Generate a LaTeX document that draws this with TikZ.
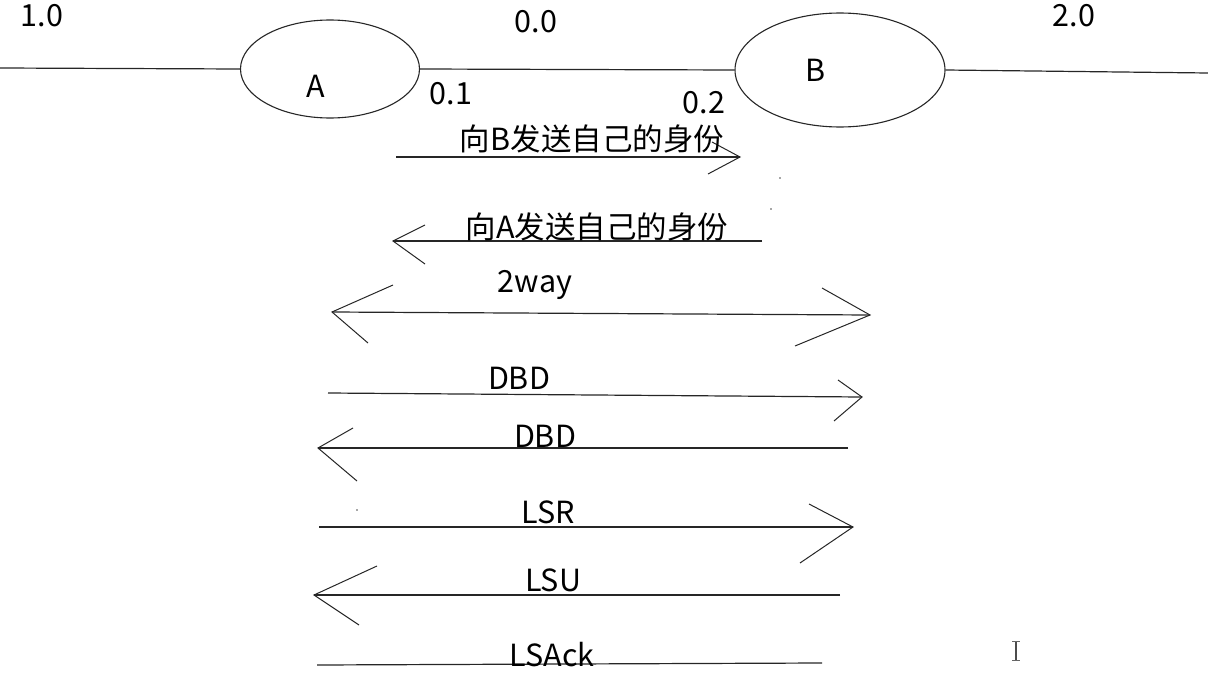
\documentclass[tikz,border=0pt]{standalone}
\usepackage{fontspec}
\setmainfont{Noto Sans CJK SC}
\usetikzlibrary{shapes.geometric}
\begin{document}
\begin{tikzpicture}[x=1pt,y=-1pt,
  ln/.style={line width=1.2pt,draw=black!85},
  tip/.style={line width=1pt,draw=black!85},
  lbl/.style={inner sep=0pt,font=\fontsize{30.5}{34}\selectfont},
  node/.style={ellipse,draw=black!85,line width=1.1pt,inner sep=0pt},
  dot/.style={fill=black!70}]
\useasboundingbox (0,0) rectangle (1208,693);
% routers
\node[node,minimum width=179pt,minimum height=98pt] (A) at (330,69) {};
\node[node,minimum width=210pt,minimum height=114pt] (B) at (840,70) {};
\coordinate (Lend) at (0,68);
\coordinate (Rend) at (1208,73);
\draw[ln] (Lend) -- (A.west);
\draw[ln] (A.east) -- (B.west);
\draw[ln] (B.east) -- (Rend);
% labels
\node[lbl] (n10) at (42,16) {1.0};
\node[lbl] (n00) at (536,22) {0.0};
\node[lbl] (n20) at (1074,16) {2.0};
\node[lbl] (nA) at (316,86) {A};
\node[lbl] (nB) at (816,70) {B};
\node[lbl] (n01) at (451,94) {0.1};
\node[lbl] (n02) at (704,103) {0.2};
% message 1
\coordinate (m1s) at (396,157); \coordinate (m1e) at (740,157);
\coordinate (m1u) at (712,142); \coordinate (m1l) at (708,174);
\draw[ln] (m1s) -- (m1e);
\draw[tip] (m1u) -- (m1e) -- (m1l);
\node[lbl] (t1) at (592,139) {向B发送自己的身份};
% message 2
\coordinate (m2s) at (762,241); \coordinate (m2e) at (393,241);
\coordinate (m2u) at (425,225); \coordinate (m2l) at (425,264);
\draw[ln] (m2s) -- (m2e);
\draw[tip] (m2u) -- (m2e) -- (m2l);
\node[lbl] (t2) at (597,227) {向A发送自己的身份};
% 2way
\coordinate (m3s) at (332,312); \coordinate (m3e) at (870,315);
\coordinate (m3lu) at (393,285); \coordinate (m3ll) at (368,343);
\coordinate (m3ru) at (822,288); \coordinate (m3rl) at (795,346);
\draw[ln] (m3s) -- (m3e);
\draw[tip] (m3lu) -- (m3s) -- (m3ll);
\draw[tip] (m3ru) -- (m3e) -- (m3rl);
\node[lbl] (t3) at (535,285) {2way};
% DBD 1
\coordinate (m4s) at (328,393); \coordinate (m4e) at (862,397);
\coordinate (m4u) at (838,380); \coordinate (m4l) at (834,421);
\draw[ln] (m4s) -- (m4e);
\draw[tip] (m4u) -- (m4e) -- (m4l);
\node[lbl] (t4) at (519,378) {DBD};
% DBD 2
\coordinate (m5s) at (848,448); \coordinate (m5e) at (318,448);
\coordinate (m5u) at (353,428); \coordinate (m5l) at (357,481);
\draw[ln] (m5s) -- (m5e);
\draw[tip] (m5u) -- (m5e) -- (m5l);
\node[lbl] (t5) at (545,436) {DBD};
% LSR
\coordinate (m6s) at (319,527); \coordinate (m6e) at (853,527);
\coordinate (m6u) at (809,504); \coordinate (m6l) at (800,563);
\draw[ln] (m6s) -- (m6e);
\draw[tip] (m6u) -- (m6e) -- (m6l);
\node[lbl] (t6) at (548,512) {LSR};
% LSU
\coordinate (m7s) at (840,595); \coordinate (m7e) at (314,595);
\coordinate (m7u) at (377,566); \coordinate (m7l) at (359,625);
\draw[ln] (m7s) -- (m7e);
\draw[tip] (m7u) -- (m7e) -- (m7l);
\node[lbl] (t7) at (553,580) {LSU};
% LSAck
\coordinate (m8s) at (317,665); \coordinate (m8e) at (822,663);
\draw[ln] (m8s) -- (m8e);
\node[lbl] (t8) at (552,655) {LSAck};
% specks
\fill[dot] (780,178) circle (0.8pt);
\fill[dot] (771,209) circle (0.8pt);
\fill[dot] (357,510) circle (0.8pt);
\fill[dot] (499,289) circle (0.6pt);
% text cursor
\draw[line width=1.4pt,black!70] (1016,641) -- (1016,660);
\draw[line width=0.9pt,black!60] (1012,641) -- (1020,641) (1012,660) -- (1020,660);
\end{tikzpicture}
\end{document}
